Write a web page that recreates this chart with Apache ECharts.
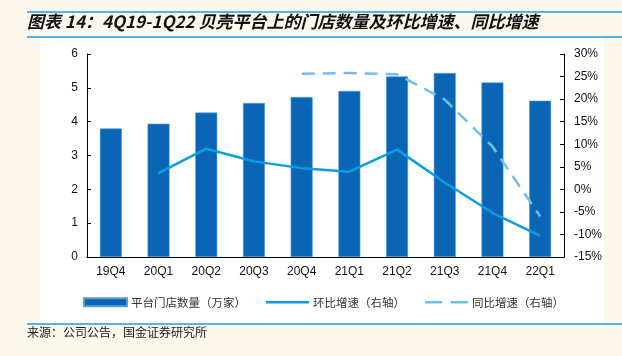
<!DOCTYPE html>
<html><head><meta charset="utf-8">
<script src="https://cdn.jsdelivr.net/npm/echarts@6/dist/echarts.min.js"></script>
<style>html,body{margin:0;padding:0;background:#fcf8ee;}#c{width:622px;height:356px;}</style>
</head><body><div id="c"></div>
<script>
var categories = ['19Q4','20Q1','20Q2','20Q3','20Q4','21Q1','21Q2','21Q3','21Q4','22Q1'];
var stores = [3.80, 3.94, 4.27, 4.55, 4.73, 4.91, 5.34, 5.44, 5.16, 4.62];
var qoq = [null, 3.6, 9.0, 6.2, 4.7, 3.9, 8.8, 1.5, -5.2, -10.3];
var yoy = [null, null, null, null, 25.6, 25.8, 25.5, 19.9, 9.5, -6.0];
var leftTicks = [0, 6, 1];
var rightTicks = [-15, 30, 5];
var names = ['平台门店数量（万家）', '环比增速（右轴）', '同比增速（右轴）'];
var titleText = '图表 14：4Q19-1Q22 贝壳平台上的门店数量及环比增速、同比增速';
var sourceText = '来源：公司公告，国金证券研究所';

var chart = echarts.init(document.getElementById('c'), null, {renderer:'canvas'});
var fontLatin = 'Liberation Sans, Arial, sans-serif';
chart.setOption({
  backgroundColor: '#fcf8ee',
  animation: false,
  graphic: [
    {type:'rect', shape:{x:40, y:38, width:564, height:286}, style:{fill:'#ffffff'}, z:-10},
    {type:'line', shape:{x1:27, y1:12, x2:622, y2:12}, style:{stroke:'#1a9fe0', lineWidth:1.5}},
    {type:'line', shape:{x1:27, y1:37, x2:622, y2:37}, style:{stroke:'#1a9fe0', lineWidth:1.5}},
    {type:'line', shape:{x1:27, y1:324, x2:622, y2:324}, style:{stroke:'#1a9fe0', lineWidth:1.5}},
    {type:'text', left:27, top:13, style:{text:titleText, font:'italic bold 17px "Noto Sans CJK SC", sans-serif', fill:'#111'}},
    {type:'text', left:27, top:326, style:{text:sourceText, font:'12px "Noto Sans CJK SC", sans-serif', fill:'#222'}}
  ],
  grid: {left:87, right:58, top:54, bottom:99},
  legend: {
    bottom: 43, left: 78, itemGap: 20, itemWidth: 43, itemHeight: 8,
    textStyle: {fontSize: 11.5, color:'#333', fontFamily:'"Noto Sans CJK SC", sans-serif', padding:[0,0,0,-1]},
    data: [
      {name: names[0], icon:'rect'},
      {name: names[1], icon:'path://M0,3 L43,3 L43,5.5 L0,5.5 Z'},
      {name: names[2], icon:'path://M0,3 L17,3 L17,5.5 L0,5.5 Z M25,3 L42,3 L42,5.5 L25,5.5 Z'}
    ]
  },
  xAxis: {
    type:'category', data: categories,
    axisLine:{lineStyle:{color:'#000', width:1}},
    axisTick:{inside:true, length:4, lineStyle:{color:'#000'}},
    axisLabel:{color:'#111', fontSize:12, fontFamily:fontLatin, margin:9}
  },
  yAxis: [
    {type:'value', min:leftTicks[0], max:leftTicks[1], interval:leftTicks[2],
     axisLine:{show:true, lineStyle:{color:'#000'}},
     axisTick:{show:true, inside:true, length:4, lineStyle:{color:'#000'}},
     splitLine:{show:false},
     axisLabel:{color:'#111', fontSize:12, fontFamily:fontLatin, margin:9}},
    {type:'value', min:rightTicks[0], max:rightTicks[1], interval:rightTicks[2],
     axisLine:{show:true, lineStyle:{color:'#000'}},
     axisTick:{show:true, inside:true, length:4, lineStyle:{color:'#000'}},
     splitLine:{show:false},
     axisLabel:{color:'#111', fontSize:12, fontFamily:fontLatin, margin:10, formatter:'{value}%'}}
  ],
  series: [
    {name:names[0], type:'bar', data:stores, barWidth:22, yAxisIndex:0,
     itemStyle:{color:'#0a66b4', borderColor:'#5a9fd6', borderWidth:0.6}},
    {name:names[1], type:'line', data:qoq, yAxisIndex:1, symbol:'none', connectNulls:false,
     lineStyle:{color:'#0a9de6', width:2.5}, itemStyle:{color:'#0a9de6'}},
    {name:names[2], type:'line', data:yoy, yAxisIndex:1, symbol:'none',
     lineStyle:{color:'#6ec1ee', width:2.5, type:[13,8]}, itemStyle:{color:'#6ec1ee'}}
  ]
});
</script></body></html>
